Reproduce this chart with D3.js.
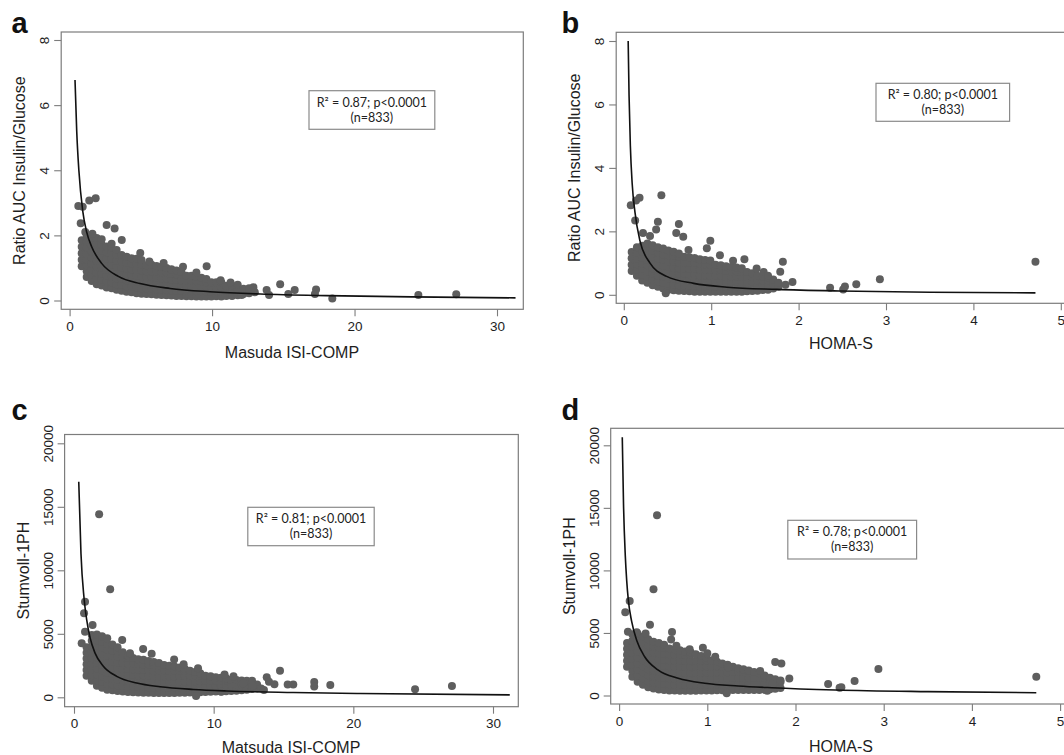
<!DOCTYPE html>
<html>
<head>
<meta charset="utf-8">
<script src="https://cdn.jsdelivr.net/npm/d3@7"></script>
<style>
  html, body { margin: 0; padding: 0; background: #fff; }
  svg { display: block; }
</style>
</head>
<body>
<svg id="chart" width="1064" height="755"></svg>
<script>
// ---- tick values and labels ----
const xTicksMatsuda = [0, 10, 20, 30];
const xTicksHoma = [0, 1, 2, 3, 4, 5];
const yTicksRatio = [0, 2, 4, 6, 8];
const yTicksStumvoll = [0, 5000, 10000, 15000, 20000];

const panelLetters = ["a", "b", "c", "d"];
const xTitles = ["Masuda ISI-COMP", "HOMA-S", "Matsuda ISI-COMP", "HOMA-S"];
const yTitles = ["Ratio AUC Insulin/Glucose", "Ratio AUC Insulin/Glucose", "Stumvoll-1PH", "Stumvoll-1PH"];
const statLines = [
  ["R² = 0.87; p<0.0001", "(n=833)"],
  ["R² = 0.80; p<0.0001", "(n=833)"],
  ["R² = 0.81; p<0.0001", "(n=833)"],
  ["R² = 0.78; p<0.0001", "(n=833)"]
];

// ---- panel a: Matsuda vs ratio AUC ----
// dense cloud read column by column: [x, [y values]]
const aCloud = [
  [0.85, [1.05, 1.25, 1.45, 1.65, 1.85]],
  [1.2, [0.72, 0.9, 1.08, 1.26, 1.44, 1.62, 1.8, 1.98]],
  [1.55, [0.6, 0.78, 0.96, 1.14, 1.32, 1.5, 1.68, 1.86]],
  [1.9, [0.5, 0.68, 0.86, 1.04, 1.22, 1.4, 1.58, 1.76, 1.92]],
  [2.25, [0.46, 0.64, 0.82, 1.0, 1.18, 1.36, 1.54, 1.72]],
  [2.6, [0.4, 0.58, 0.76, 0.94, 1.12, 1.3, 1.48, 1.66]],
  [2.95, [0.38, 0.56, 0.74, 0.92, 1.1, 1.28, 1.46, 1.62]],
  [3.3, [0.33, 0.5, 0.68, 0.86, 1.04, 1.22, 1.4, 1.55]],
  [3.65, [0.3, 0.48, 0.66, 0.84, 1.02, 1.2, 1.4]],
  [4.0, [0.27, 0.44, 0.62, 0.8, 0.98, 1.16, 1.34]],
  [4.35, [0.25, 0.42, 0.6, 0.78, 0.96, 1.14, 1.3]],
  [4.7, [0.22, 0.4, 0.58, 0.76, 0.94, 1.12, 1.28]],
  [5.05, [0.21, 0.38, 0.56, 0.74, 0.92, 1.1, 1.24]],
  [5.4, [0.2, 0.37, 0.54, 0.72, 0.9, 1.08]],
  [5.75, [0.19, 0.36, 0.54, 0.72, 0.9, 1.1]],
  [6.1, [0.18, 0.34, 0.52, 0.7, 0.88, 1.06]],
  [6.45, [0.17, 0.33, 0.5, 0.68, 0.86, 1.04]],
  [6.8, [0.16, 0.32, 0.5, 0.68, 0.86, 1.0]],
  [7.15, [0.15, 0.31, 0.48, 0.65, 0.82, 0.96]],
  [7.5, [0.14, 0.3, 0.47, 0.64, 0.8, 0.92]],
  [7.85, [0.14, 0.3, 0.46, 0.62, 0.78, 0.88]],
  [8.2, [0.13, 0.29, 0.45, 0.6, 0.76]],
  [8.55, [0.13, 0.29, 0.44, 0.6, 0.76]],
  [8.9, [0.12, 0.28, 0.44, 0.58, 0.72]],
  [9.25, [0.12, 0.28, 0.43, 0.58, 0.7]],
  [9.6, [0.12, 0.27, 0.42, 0.56, 0.66]],
  [9.95, [0.12, 0.27, 0.42, 0.56]],
  [10.3, [0.13, 0.28, 0.42, 0.56]],
  [10.65, [0.12, 0.27, 0.42, 0.55]],
  [11.0, [0.14, 0.3, 0.45]],
  [11.4, [0.14, 0.3, 0.45]],
  [11.8, [0.16, 0.32, 0.48]],
  [12.2, [0.2, 0.36]],
  [12.6, [0.22, 0.38]],
  [13.0, [0.25]]
];
const aOutliers = [
  [0.61, 2.9], [0.92, 2.88], [1.38, 3.07], [1.83, 3.14], [0.78, 2.37], [2.6, 2.32],
  [3.16, 2.21], [3.66, 1.86], [2.95, 1.74], [2.25, 1.88], [4.96, 1.46], [7.96, 1.04],
  [9.62, 1.05], [8.9, 0.86], [14.78, 0.5], [15.8, 0.32], [17.3, 0.34], [17.22, 0.2],
  [18.44, 0.06], [15.35, 0.2], [13.83, 0.32], [14.0, 0.17], [12.9, 0.41], [12.08, 0.17],
  [24.48, 0.17], [27.14, 0.19], [1.1, 2.1], [1.6, 2.05], [5.6, 1.2], [6.6, 1.15],
  [10.6, 0.62], [11.3, 0.55]
];
const aCurve = [
  [0.38, 6.77], [0.5, 5.2], [0.65, 4.0], [0.92, 2.75], [1.2, 2.1], [1.55, 1.65],
  [2.25, 1.14], [3.42, 0.74], [4.94, 0.52], [7.05, 0.37], [9.85, 0.27], [13.4, 0.2],
  [18, 0.15], [24, 0.11], [31.3, 0.08]
];

// ---- panel b: HOMA-S vs ratio AUC ----
const bCloud = [
  [0.09, [0.75, 0.95, 1.15, 1.35]],
  [0.15, [0.6, 0.78, 0.96, 1.14, 1.32, 1.5]],
  [0.21, [0.45, 0.63, 0.81, 0.99, 1.17, 1.35, 1.55]],
  [0.27, [0.38, 0.56, 0.74, 0.92, 1.1, 1.28, 1.46, 1.62]],
  [0.33, [0.3, 0.48, 0.66, 0.84, 1.02, 1.2, 1.38, 1.56]],
  [0.39, [0.25, 0.43, 0.61, 0.79, 0.97, 1.15, 1.33, 1.5]],
  [0.45, [0.2, 0.38, 0.56, 0.74, 0.92, 1.1, 1.28, 1.46]],
  [0.51, [0.16, 0.34, 0.52, 0.7, 0.88, 1.06, 1.24, 1.4]],
  [0.57, [0.14, 0.32, 0.5, 0.68, 0.86, 1.04, 1.22, 1.36]],
  [0.63, [0.13, 0.3, 0.48, 0.66, 0.84, 1.02, 1.2, 1.3]],
  [0.69, [0.12, 0.3, 0.48, 0.66, 0.84, 1.02, 1.2]],
  [0.75, [0.11, 0.28, 0.46, 0.64, 0.82, 1.0, 1.18]],
  [0.81, [0.1, 0.28, 0.46, 0.64, 0.82, 1.0, 1.16]],
  [0.87, [0.1, 0.27, 0.44, 0.62, 0.8, 0.98, 1.12]],
  [0.93, [0.1, 0.27, 0.44, 0.62, 0.8, 0.96, 1.1]],
  [0.99, [0.1, 0.26, 0.43, 0.6, 0.78, 0.95, 1.08]],
  [1.05, [0.1, 0.26, 0.43, 0.6, 0.78, 0.95]],
  [1.11, [0.1, 0.26, 0.43, 0.6, 0.78, 0.93]],
  [1.17, [0.1, 0.26, 0.42, 0.58, 0.75, 0.9]],
  [1.23, [0.1, 0.25, 0.42, 0.58, 0.74, 0.88]],
  [1.29, [0.1, 0.25, 0.42, 0.58, 0.74, 0.86]],
  [1.35, [0.1, 0.25, 0.4, 0.56, 0.72, 0.84]],
  [1.41, [0.11, 0.26, 0.42, 0.58, 0.72]],
  [1.47, [0.12, 0.27, 0.42, 0.56, 0.68]],
  [1.53, [0.13, 0.28, 0.44, 0.6]],
  [1.59, [0.15, 0.3, 0.45, 0.58]],
  [1.65, [0.16, 0.3, 0.44, 0.55]],
  [1.71, [0.2, 0.34, 0.48]],
  [1.77, [0.25, 0.38]]
];
const bOutliers = [
  [0.08, 2.82], [0.14, 2.97], [0.18, 3.06], [0.43, 3.14], [0.13, 2.34], [0.39, 2.3],
  [0.63, 2.23], [0.37, 2.06], [0.6, 1.95], [0.68, 1.83], [0.99, 1.7], [0.95, 1.47],
  [0.74, 1.41], [1.1, 1.25], [1.38, 1.12], [1.25, 1.07], [1.82, 1.04], [1.52, 0.83],
  [1.79, 0.73], [1.93, 0.4], [1.85, 0.32], [2.36, 0.22], [2.51, 0.17], [2.53, 0.26],
  [2.66, 0.33], [2.93, 0.49], [4.71, 1.04], [0.48, 0.05], [0.22, 1.95], [0.3, 1.85],
  [1.6, 0.72], [1.65, 0.6]
];
const bCurve = [
  [0.05, 8.0], [0.06, 6.3], [0.075, 4.7], [0.096, 3.5], [0.128, 2.6], [0.185, 1.7],
  [0.3, 1.0], [0.49, 0.58], [0.8, 0.36], [1.18, 0.24], [1.75, 0.17], [2.47, 0.12],
  [3.5, 0.08], [4.71, 0.06]
];

// ---- panel c: Matsuda vs Stumvoll-1PH ----
const cCloud = [
  [0.9, [1700, 2150, 2600, 3050, 3500, 3950]],
  [1.27, [1300, 1750, 2200, 2650, 3100, 3550, 4000, 4450, 4900]],
  [1.64, [900, 1350, 1800, 2250, 2700, 3150, 3600, 4050, 4500, 4950]],
  [2.01, [750, 1200, 1650, 2100, 2550, 3000, 3450, 3900, 4350, 4800]],
  [2.38, [600, 1050, 1500, 1950, 2400, 2850, 3300, 3750, 4200, 4650]],
  [2.75, [550, 1000, 1450, 1900, 2350, 2800, 3250, 3700, 4150]],
  [3.12, [500, 950, 1400, 1850, 2300, 2750, 3200, 3650, 3950]],
  [3.49, [450, 900, 1350, 1800, 2250, 2700, 3150, 3550]],
  [3.86, [420, 870, 1320, 1770, 2220, 2670, 3100, 3300]],
  [4.23, [400, 850, 1300, 1750, 2200, 2650, 3100]],
  [4.6, [380, 830, 1280, 1730, 2180, 2630, 3000]],
  [4.97, [360, 810, 1260, 1710, 2160, 2610, 2950]],
  [5.34, [350, 800, 1250, 1700, 2150, 2600, 2850]],
  [5.71, [340, 780, 1220, 1660, 2100, 2540, 2780]],
  [6.08, [330, 770, 1210, 1650, 2090, 2530, 2700]],
  [6.45, [330, 770, 1210, 1650, 2090, 2550]],
  [6.82, [330, 770, 1210, 1650, 2090, 2480]],
  [7.19, [340, 780, 1220, 1660, 2100, 2420]],
  [7.56, [350, 790, 1230, 1670, 2100, 2350]],
  [7.93, [360, 800, 1240, 1680, 2100, 2250]],
  [8.3, [370, 810, 1250, 1690, 2100]],
  [8.67, [380, 820, 1260, 1700, 2000]],
  [9.04, [400, 840, 1280, 1720, 1900]],
  [9.41, [420, 860, 1300, 1700]],
  [9.78, [430, 870, 1310, 1650]],
  [10.15, [450, 890, 1330, 1580]],
  [10.52, [460, 900, 1340, 1540]],
  [10.89, [480, 920, 1350, 1500]],
  [11.26, [500, 940, 1380]],
  [11.63, [520, 960, 1370]],
  [12.0, [560, 1000, 1330]],
  [12.37, [600, 1020, 1300]],
  [12.74, [650, 1050]],
  [13.11, [700, 1000]]
];
const cOutliers = [
  [1.8, 14410], [2.59, 8500], [0.79, 7530], [0.72, 6610], [0.79, 5170], [0.55, 4250],
  [1.33, 5690], [3.45, 4510], [4.01, 3460], [4.95, 3800], [5.56, 3420], [7.17, 2970],
  [7.85, 2600], [8.88, 2280], [8.74, 100], [14.75, 2100], [13.8, 1580], [13.96, 1230],
  [15.7, 1000], [17.2, 1200], [17.2, 860], [18.35, 970], [15.3, 1000], [12.75, 1300],
  [13.4, 700], [11.42, 1650], [10.78, 1800], [12.13, 1100], [10.55, 440], [24.42, 630],
  [27.06, 890], [14.35, 1020], [13.6, 575], [12.8, 900]
];
const cCurve = [
  [0.34, 16980], [0.5, 11300], [0.72, 7800], [0.91, 6100], [1.15, 4700], [1.5, 3500],
  [2.1, 2450], [3.06, 1650], [4.49, 1120], [6.16, 830], [8.54, 620], [10.93, 500],
  [15.7, 380], [20.5, 300], [31.2, 190]
];

// ---- panel d: HOMA-S vs Stumvoll-1PH ----
const dCloud = [
  [0.09, [2300, 2780, 3260, 3740, 4200]],
  [0.15, [1500, 1980, 2460, 2940, 3420, 3900, 4380, 4900]],
  [0.21, [1100, 1580, 2060, 2540, 3020, 3500, 3980, 4460, 4940]],
  [0.27, [850, 1330, 1810, 2290, 2770, 3250, 3730, 4210, 4700]],
  [0.33, [650, 1130, 1610, 2090, 2570, 3050, 3530, 4010, 4500]],
  [0.39, [550, 1030, 1510, 1990, 2470, 2950, 3430, 3910, 4300]],
  [0.45, [480, 960, 1440, 1920, 2400, 2880, 3360, 3840, 4200]],
  [0.51, [430, 910, 1390, 1870, 2350, 2830, 3310, 3790, 4050]],
  [0.57, [400, 880, 1360, 1840, 2320, 2800, 3280, 3760]],
  [0.63, [390, 870, 1350, 1830, 2310, 2790, 3270, 3700]],
  [0.69, [385, 865, 1345, 1825, 2305, 2785, 3265, 3620]],
  [0.75, [385, 865, 1345, 1825, 2305, 2785, 3265, 3520]],
  [0.81, [385, 865, 1345, 1825, 2305, 2785, 3265, 3450]],
  [0.87, [385, 865, 1345, 1825, 2305, 2785, 3300]],
  [0.93, [390, 870, 1350, 1830, 2310, 2790, 3150]],
  [0.99, [400, 880, 1360, 1840, 2320, 2800, 3050]],
  [1.05, [400, 880, 1360, 1840, 2320, 2800]],
  [1.11, [410, 890, 1370, 1850, 2330, 2700]],
  [1.17, [420, 900, 1380, 1860, 2340, 2550]],
  [1.23, [420, 900, 1380, 1860, 2300, 2450]],
  [1.29, [430, 910, 1390, 1870, 2300]],
  [1.35, [440, 920, 1400, 1880, 2170]],
  [1.41, [440, 920, 1400, 1880, 2100]],
  [1.47, [440, 920, 1400, 1850, 2000]],
  [1.53, [440, 920, 1400, 1880]],
  [1.59, [440, 920, 1400, 1750]],
  [1.65, [450, 930, 1410, 1600]],
  [1.71, [500, 980, 1420]],
  [1.77, [540, 1020, 1300]],
  [1.83, [600, 1080, 1200]]
];
const dOutliers = [
  [0.43, 14400], [0.39, 8490], [0.12, 7550], [0.07, 6650], [0.35, 5650], [0.1, 5100],
  [0.6, 5070], [0.59, 4480], [0.65, 3980], [0.95, 3820], [1.0, 3370], [1.09, 3100],
  [1.24, 2250], [1.77, 2670], [1.84, 2550], [1.93, 1350], [1.74, 920], [1.68, 380],
  [1.22, 180], [2.37, 920], [2.52, 655], [2.67, 1160], [2.94, 2120], [4.73, 1500],
  [2.5, 620], [0.2, 5050], [0.3, 4950], [0.8, 3700], [1.6, 1950]
];
const dCurve = [
  [0.036, 20640], [0.05, 15300], [0.07, 11200], [0.086, 9200], [0.105, 7600],
  [0.143, 5900], [0.2, 4400], [0.29, 3100], [0.44, 2050], [0.67, 1380], [0.97, 980],
  [1.35, 760], [1.73, 620], [2.45, 440], [3.5, 310], [4.73, 220]
];

const panels = [
  { cloud: aCloud, outliers: aOutliers, curve: aCurve, xTicks: xTicksMatsuda, yTicks: yTicksRatio,
    xDomain: [0, 30], yDomain: [0, 8], xRange: [69.6, 497], yRange: [300.5, 40],
    frame: [61.2, 32, 523.3, 309.3], box: [309, 90.7, 125.8, 38.6],
    letterAt: [11.5, 33], xTitleAt: [292, 358] },
  { cloud: bCloud, outliers: bOutliers, curve: bCurve, xTicks: xTicksHoma, yTicks: yTicksRatio,
    xDomain: [0, 5], yDomain: [0, 8], xRange: [623.8, 1060.8], yRange: [294.8, 41],
    frame: [616.2, 32.3, 1080, 303.3], box: [876, 83.3, 133.6, 38],
    letterAt: [561.5, 33], xTitleAt: [841, 349] },
  { cloud: cCloud, outliers: cOutliers, curve: cCurve, xTicks: xTicksMatsuda, yTicks: yTicksStumvoll,
    xDomain: [0, 30], yDomain: [0, 20000], xRange: [74, 493], yRange: [697.3, 443.3],
    frame: [64.6, 434.5, 518.3, 706.7], box: [247.8, 507.3, 126.4, 38.4],
    letterAt: [11.5, 420], xTitleAt: [291, 752.5] },
  { cloud: dCloud, outliers: dOutliers, curve: dCurve, xTicks: xTicksHoma, yTicks: yTicksStumvoll,
    xDomain: [0, 5], yDomain: [0, 20000], xRange: [619.1, 1060.1], yRange: [695.5, 445.3],
    frame: [610.7, 428.3, 1080, 704], box: [787.8, 520.3, 128.8, 38.7],
    letterAt: [561.5, 420], xTitleAt: [841, 751.5] }
];

const axisFont = "'Liberation Sans', Arial, sans-serif";
const boxFont = "Lato, 'Open Sans', sans-serif";
const frameColor = "#7c7c7c";
const dotColor = "#5e5e5e";

const svg = d3.select("#chart");

panels.forEach((p, i) => {
  const x = d3.scaleLinear().domain(p.xDomain).range(p.xRange);
  const y = d3.scaleLinear().domain(p.yDomain).range(p.yRange);
  const [fx0, fy0, fx1, fy1] = p.frame;
  const g = svg.append("g").attr("class", "panel");

  // plot frame
  g.append("rect")
    .attr("x", fx0).attr("y", fy0)
    .attr("width", fx1 - fx0).attr("height", fy1 - fy0)
    .attr("fill", "none")
    .attr("stroke", frameColor)
    .attr("stroke-width", 1.2);

  // points: dense cloud columns + scattered ones
  const pts = p.cloud.flatMap(([cx, ys]) => ys.map(v => [cx, v])).concat(p.outliers);
  g.append("g")
    .selectAll("circle")
    .data(pts)
    .join("circle")
      .attr("cx", d => x(d[0]))
      .attr("cy", d => y(d[1]))
      .attr("r", 4)
      .attr("fill", dotColor);

  // fitted curve
  const line = d3.line()
    .x(d => x(d[0]))
    .y(d => y(d[1]))
    .curve(d3.curveMonotoneX);
  g.append("path")
    .datum(p.curve)
    .attr("d", line)
    .attr("fill", "none")
    .attr("stroke", "#111")
    .attr("stroke-width", 1.6);

  // bottom axis
  const xAxis = g.append("g")
    .attr("transform", `translate(0, ${fy1})`)
    .call(d3.axisBottom(x).tickValues(p.xTicks).tickSize(7).tickPadding(5).tickFormat(d3.format("d")));
  xAxis.select(".domain").remove();
  xAxis.attr("font-family", axisFont).attr("font-size", 13.5);
  xAxis.selectAll("line").attr("stroke", frameColor).attr("stroke-width", 1.1);
  xAxis.selectAll("text").attr("fill", "#1e1e1e");

  // left axis, labels turned to read bottom-up
  const yAxis = g.append("g")
    .attr("transform", `translate(${fx0}, 0)`)
    .call(d3.axisLeft(y).tickValues(p.yTicks).tickSize(7).tickFormat(d3.format("d")));
  yAxis.select(".domain").remove();
  yAxis.attr("font-family", axisFont).attr("font-size", 13.5);
  yAxis.selectAll("line").attr("stroke", frameColor).attr("stroke-width", 1.1);
  yAxis.selectAll("text")
    .attr("fill", "#1e1e1e")
    .attr("transform", "rotate(-90)")
    .attr("x", 0)
    .attr("y", -12)
    .attr("dy", null)
    .attr("text-anchor", "middle");

  // axis titles
  g.append("text")
    .text(xTitles[i])
    .attr("x", p.xTitleAt[0])
    .attr("y", p.xTitleAt[1])
    .attr("text-anchor", "middle")
    .attr("font-family", axisFont)
    .attr("font-size", 16)
    .attr("fill", "#1e1e1e");

  g.append("text")
    .text(yTitles[i])
    .attr("transform", `translate(${fx0 - 36}, ${(fy0 + fy1) / 2}) rotate(-90)`)
    .attr("text-anchor", "middle")
    .attr("font-family", axisFont)
    .attr("font-size", 16)
    .attr("fill", "#1e1e1e");

  // panel letter
  g.append("text")
    .text(panelLetters[i])
    .attr("x", p.letterAt[0])
    .attr("y", p.letterAt[1])
    .attr("font-family", axisFont)
    .attr("font-weight", "bold")
    .attr("font-size", 29)
    .attr("fill", "#111");

  // statistics box
  const [bx, by, bw, bh] = p.box;
  g.append("rect")
    .attr("x", bx).attr("y", by)
    .attr("width", bw).attr("height", bh)
    .attr("fill", "#fff")
    .attr("stroke", "#8a8a8a")
    .attr("stroke-width", 1.2);
  g.append("g")
    .selectAll("text")
    .data(statLines[i])
    .join("text")
      .text(d => d)
      .attr("x", bx + bw / 2)
      .attr("y", (d, k) => by + 16 + k * 15)
      .attr("text-anchor", "middle")
      .attr("font-family", boxFont)
      .attr("font-size", 12.5)
      .attr("fill", "#222");
});
</script>
</body>
</html>
